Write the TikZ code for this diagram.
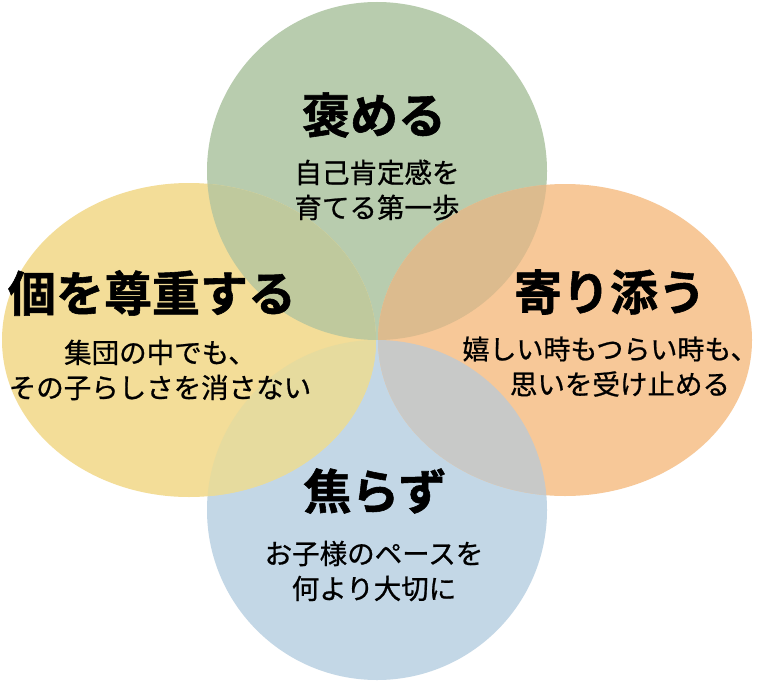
\documentclass[tikz,border=0pt]{standalone}
\usepackage{fontspec}
\newfontfamily\jpttl{Noto Sans CJK JP}[UprightFont={* Bold}, FakeBold=1.2]
\newfontfamily\jpsub{Noto Sans CJK JP}[FakeBold=0.8]
\definecolor{cG}{HTML}{B8CCAE}
\definecolor{cY}{HTML}{F3DD98}
\definecolor{cO}{HTML}{F7C898}
\definecolor{cB}{HTML}{C3D7E6}
\definecolor{cGY}{HTML}{BFC99D}
\definecolor{cYB}{HTML}{E6DB9E}
\definecolor{cGO}{HTML}{DCBB8E}
\definecolor{cOB}{HTML}{C8C9C8}
\tikzset{
  ttl/.style={inner sep=0pt, font=\jpttl\fontsize{48}{48}\selectfont},
  sub/.style={inner sep=0pt, align=center, font=\jpsub\fontsize{27.5}{35}\selectfont},
}
\begin{document}
\begin{tikzpicture}[x=1pt,y=-1pt]
\useasboundingbox (0,0) rectangle (759,682);
\fill[white] (0,0) rectangle (759,682);
% base ellipses
\fill[cG] (377,171) ellipse [x radius=170, y radius=169];
\fill[cB] (377,510) ellipse [x radius=170, y radius=170];
\fill[cY] (189,340) ellipse [x radius=187, y radius=157];
\fill[cO] (565,340) ellipse [x radius=187, y radius=156];
% overlaps
\begin{scope}
  \clip (377,171) ellipse [x radius=170, y radius=169];
  \fill[cGY] (189,340) ellipse [x radius=187, y radius=157];
  \fill[cGO] (565,340) ellipse [x radius=187, y radius=156];
\end{scope}
\begin{scope}
  \clip (377,510) ellipse [x radius=170, y radius=170];
  \fill[cYB] (189,340) ellipse [x radius=187, y radius=157];
  \fill[cOB] (565,340) ellipse [x radius=187, y radius=156];
\end{scope}
% texts
\node[ttl] (t1) at (374,115) {褒める};
\node[sub] (s1) at (377,190) {自己肯定感を\\育てる第一歩};
\node[ttl] (t2) at (152,293) {個を尊重する};
\node[sub] (s2) at (160,370) {集団の中でも、\\その子らしさを消さない};
\node[ttl] (t3) at (610,292) {寄り添う};
\node[sub, font=\jpsub\fontsize{27}{35}\selectfont] (s3a) at (610,349) {嬉しい時もつらい時も、};
\node[sub] (s3b) at (620,384) {思いを受け止める};
\node[ttl] (t4) at (375,491) {焦らず};
\node[sub] (s4) at (374,571) {お子様のペースを\\何より大切に};
\end{tikzpicture}
\end{document}
